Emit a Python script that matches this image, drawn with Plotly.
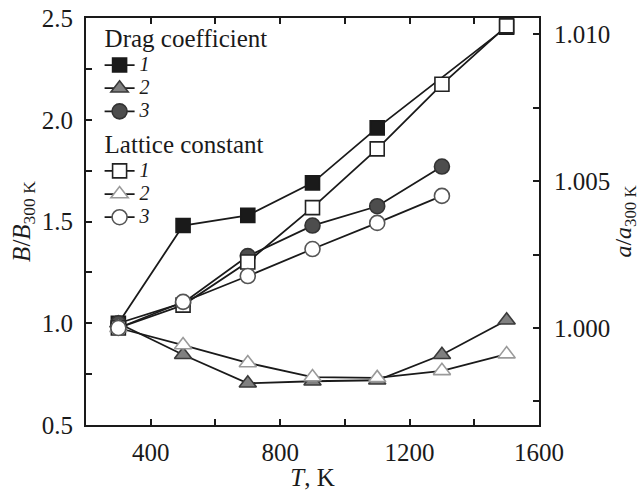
import plotly.graph_objects as go

# ---- data ----
T_all = [300, 500, 700, 900, 1100, 1300, 1500]
T_drag1 = [300, 500, 700, 900, 1100, 1500]
T_to1300 = [300, 500, 700, 900, 1100, 1300]

drag1 = [1.0, 1.48, 1.53, 1.69, 1.96, 2.455]
drag2 = [1.0, 0.845, 0.705, 0.715, 0.72, 0.845, 1.015]
drag3 = [1.0, 1.10, 1.33, 1.48, 1.575, 1.77]

latt1 = [1.0, 1.00078, 1.00225, 1.0041, 1.0061, 1.0083, 1.01029]
latt2 = [1.0, 0.99942, 0.99881, 0.99833, 0.99830, 0.99854, 0.99911]
latt3 = [1.0, 1.00089, 1.00177, 1.00269, 1.00358, 1.0045]

x_ticks = [400, 800, 1200, 1600]
y_ticks = [0.5, 1.0, 1.5, 2.0, 2.5]
y_ticktext = ["0.5", "1.0", "1.5", "2.0", "2.5"]
y2_ticks = [1.0, 1.005, 1.01]
y2_ticktext = ["1.000", "1.005", "1.010"]

FONT = "Liberation Serif"
INK = "#1a1a1a"
LINE = dict(color=INK, width=1.8)
ENTRY = "<span style='font-size:20px'><i>{}</i></span>"

fig = go.Figure()


def add(x, y, name, group, gtitle, symbol, fill, edge, yaxis, show_title):
    kw = {}
    if show_title:
        kw["legendgrouptitle"] = dict(
            text="<span style='font-size:25px'>" + gtitle + "</span>",
            font=dict(family=FONT, size=18, color=INK),
        )
    fig.add_trace(go.Scatter(
        x=x, y=y, mode="lines+markers", name=ENTRY.format(name),
        legendgroup=group, yaxis=yaxis, line=LINE,
        marker=dict(symbol=symbol, size=14 if "square" in symbol else 15,
                    color=fill, line=dict(color=edge, width=1.6)),
        **kw,
    ))


add(T_drag1, drag1, "1", "drag", "Drag coefficient", "square", INK, INK, "y", True)
add(T_all, drag2, "2", "drag", "Drag coefficient", "triangle-up", "#808080", "#3a3a3a", "y", False)
add(T_to1300, drag3, "3", "drag", "Drag coefficient", "circle", "#4d4d4d", "#333333", "y", False)
add(T_all, latt1, "1", "latt", "Lattice constant", "square", "white", "#222222", "y2", True)
add(T_all, latt2, "2", "latt", "Lattice constant", "triangle-up", "white", "#9a9a9a", "y2", False)
add(T_to1300, latt3, "3", "latt", "Lattice constant", "circle", "white", "#555555", "y2", False)

axis_common = dict(
    showline=True, linecolor=INK, linewidth=2,
    ticks="inside", tickcolor=INK, tickwidth=1.5, ticklen=6,
    showgrid=False, zeroline=False, automargin=False,
    tickfont=dict(family=FONT, size=25, color=INK),
)
minor_common = dict(ticks="inside", ticklen=6, tickcolor=INK, tickwidth=1.5)

fig.update_layout(
    width=644, height=491,
    margin=dict(l=86, r=105, t=18, b=66),
    paper_bgcolor="white", plot_bgcolor="white",
    font=dict(family=FONT, color=INK),
    showlegend=True,
    legend=dict(
        x=0.03, y=0.99, xanchor="left", yanchor="top",
        bgcolor="rgba(0,0,0,0)", borderwidth=0,
        font=dict(family=FONT, size=15.5, color=INK),
        tracegroupgap=10, groupclick="toggleitem",
    ),
    xaxis=dict(
        range=[200, 1600], tickvals=x_ticks,
        minor=dict(tickvals=[600, 1000, 1400], **minor_common),
        mirror="ticks", ticklabelstandoff=4,
        title=dict(text="<i>T</i>, K", font=dict(family=FONT, size=25), standoff=2),
        **axis_common,
    ),
    yaxis=dict(
        range=[0.5, 2.5], tickvals=y_ticks, ticktext=y_ticktext,
        minor=dict(tickvals=[0.75, 1.25, 1.75, 2.25], **minor_common),
        mirror=True, ticklabelstandoff=6,
        title=dict(text="<i>B</i>/<i>B</i><sub>300 K</sub>", font=dict(family=FONT, size=25), standoff=4),
        **axis_common,
    ),
    yaxis2=dict(
        range=[0.996696, 1.010559], tickvals=y2_ticks, ticktext=y2_ticktext,
        minor=dict(tickvals=[0.9975, 1.0025, 1.0075], **minor_common),
        overlaying="y", side="right", ticklabelstandoff=8,
        title=dict(text="<i>a</i>/<i>a</i><sub>300 K</sub>", font=dict(family=FONT, size=24), standoff=2),
        **axis_common,
    ),
)

fig.write_html(
    "out.html",
    config={"displayModeBar": False},
    post_script="document.body.style.margin='0';document.body.style.padding='0';",
)
